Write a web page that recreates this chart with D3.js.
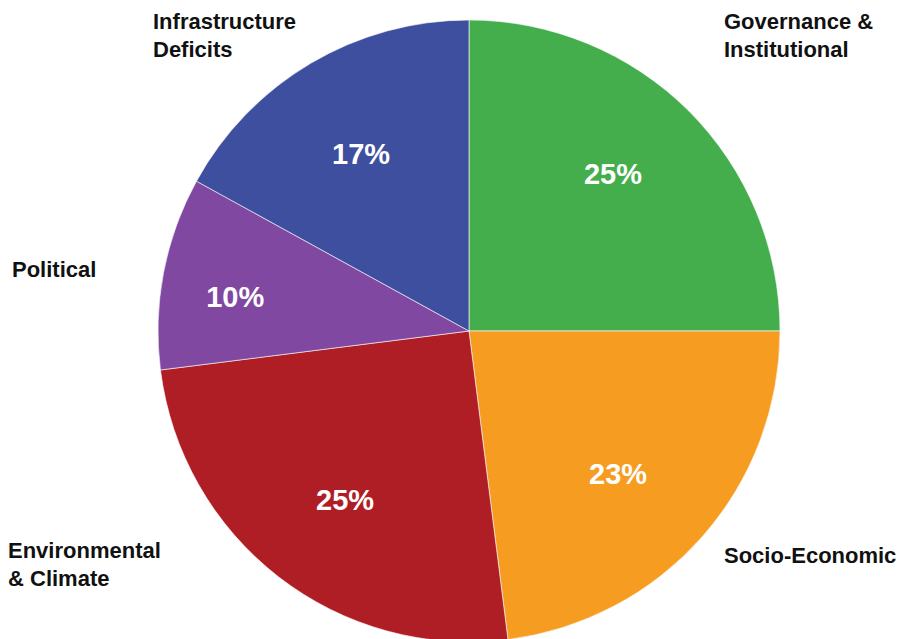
<!DOCTYPE html>
<html>
<head>
<meta charset="utf-8">
<script src="https://cdn.jsdelivr.net/npm/d3@7"></script>
<style>
  html, body { margin: 0; padding: 0; background: #fff; }
  svg { display: block; }
  text { font-family: "Liberation Sans", Arial, Helvetica, sans-serif; font-weight: bold; }
</style>
</head>
<body>
<svg id="chart" width="900" height="639"></svg>
<script>
// Share of risks by category (percent), clockwise from 12 o'clock
const categories = ["Governance & Institutional", "Socio-Economic", "Environmental & Climate", "Political", "Infrastructure Deficits"];
const values = [25, 23, 25, 10, 17];
const colors = ["#43ae4b", "#f69c21", "#b01e25", "#8048a0", "#3f4f9f"];
// Category names broken into lines for the outer labels
const labelLines = [
  ["Governance &", "Institutional"],
  ["Socio-Economic"],
  ["Environmental", "& Climate"],
  ["Political"],
  ["Infrastructure", "Deficits"]
];

const W = 900, H = 639;
const cx = 469, cy = 331, R = 311;

const svg = d3.select("#chart");
const g = svg.append("g").attr("transform", `translate(${cx},${cy})`);

const data = categories.map((c, i) => ({ name: c, value: values[i], color: colors[i], lines: labelLines[i] }));

const pie = d3.pie().value(d => d.value).sort(null);
const arc = d3.arc().innerRadius(0).outerRadius(R);
const arcs = pie(data);

g.selectAll("path.slice")
  .data(arcs)
  .join("path")
  .attr("class", "slice")
  .attr("d", arc)
  .attr("fill", d => d.data.color)
  .attr("stroke", "#ffffff")
  .attr("stroke-width", 0.6);

// Percentage labels inside the slices; narrow slices get pushed outward,
// with small hand nudges so the numbers sit comfortably in each wedge
const inner = d3.arc().innerRadius(0).outerRadius(424);
const innerWide = d3.arc().innerRadius(0).outerRadius(472);
const nudge = {
  "Governance & Institutional": [-6, -8],
  "Socio-Economic": [-10, 2],
  "Environmental & Climate": [6, 1],
  "Political": [-2, 10],
  "Infrastructure Deficits": [0, 5]
};
g.selectAll("text.pct")
  .data(arcs)
  .join("text")
  .attr("class", "pct")
  .attr("transform", d => {
    const c = (d.data.value < 12 ? innerWide : inner).centroid(d);
    const n = nudge[d.data.name];
    return `translate(${c[0] + n[0]},${c[1] + n[1]})`;
  })
  .attr("text-anchor", "middle")
  .attr("dy", "0.36em")
  .attr("fill", "#ffffff")
  .attr("font-size", 29)
  .text(d => d.data.value + "%");

// Category labels placed around the pie
const outerPos = {
  "Governance & Institutional": [724, 29],
  "Socio-Economic": [724, 563],
  "Environmental & Climate": [8, 558],
  "Political": [12, 277],
  "Infrastructure Deficits": [153, 29]
};
const labels = svg.selectAll("text.cat")
  .data(data)
  .join("text")
  .attr("class", "cat")
  .attr("x", d => outerPos[d.name][0])
  .attr("y", d => outerPos[d.name][1])
  .attr("fill", "#111111")
  .attr("font-size", 22);
labels.selectAll("tspan")
  .data(d => d.lines.map(l => ({ l, x: outerPos[d.name][0] })))
  .join("tspan")
  .attr("x", t => t.x)
  .attr("dy", (t, i) => i === 0 ? 0 : 28)
  .text(t => t.l);
</script>
</body>
</html>
